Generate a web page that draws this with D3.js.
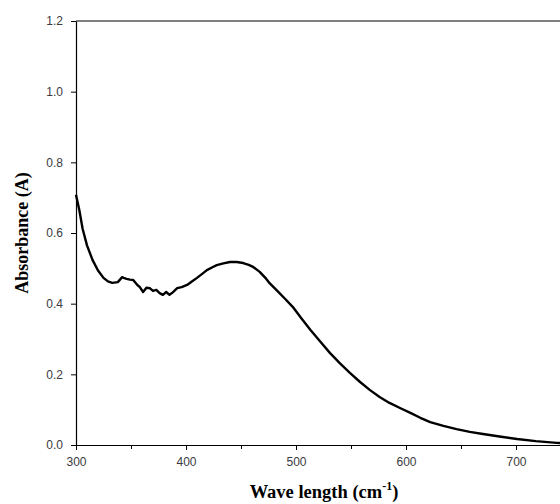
<!DOCTYPE html>
<html><head><meta charset="utf-8">
<script src="https://cdn.jsdelivr.net/npm/d3@7"></script>
<style>body{margin:0;background:#fff}svg{display:block}</style>
</head><body>
<script>
const wavelength = [300,303,306,310,315,320,325,329,333,338,342,344,346,349,352,356,358,361,364,367,370,373,376,379,382,385,388,392,396,401,405,410,415,419,424,428,434,440,446,452,457,461,467,473,476,483,490,497,505,513,522,531,540,549,558,567,576,585,595,604,613,622,634,646,658,670,685,701,718,737,750];
const absorbance = [0.708,0.665,0.612,0.565,0.524,0.494,0.473,0.463,0.459,0.461,0.475,0.472,0.47,0.468,0.467,0.452,0.447,0.433,0.445,0.444,0.436,0.439,0.43,0.425,0.433,0.425,0.432,0.444,0.447,0.453,0.462,0.473,0.485,0.495,0.503,0.509,0.514,0.518,0.518,0.515,0.51,0.504,0.49,0.47,0.458,0.436,0.414,0.391,0.358,0.326,0.293,0.260,0.231,0.204,0.179,0.156,0.136,0.119,0.104,0.091,0.077,0.065,0.054,0.045,0.037,0.031,0.024,0.017,0.011,0.006,0.004];
const xTicks = [300,400,500,600,700];
const xMinorTicks = [350,450,550,650,750];
const yTicks = [0.0,0.2,0.4,0.6,0.8,1.0,1.2];

const W = 560, H = 504;
const svg = d3.select("body").append("svg").attr("width", W).attr("height", H);
const x = d3.scaleLinear().domain([300, 750]).range([76, 571]);
const y = d3.scaleLinear().domain([0, 1.2]).range([445, 21]);

// frame top
svg.append("line").attr("x1", x(300)).attr("x2", W).attr("y1", y(1.2)).attr("y2", y(1.2))
  .attr("stroke", "#000").attr("stroke-width", 1.2);

const xAxis = svg.append("g").attr("transform", `translate(0,${y(0)})`)
  .call(d3.axisBottom(x).tickValues(xTicks).tickFormat(d3.format("d")).tickSize(5).tickSizeOuter(0));
svg.append("g").attr("transform", `translate(0,${y(0)})`)
  .call(d3.axisBottom(x).tickValues(xMinorTicks).tickFormat("").tickSize(4).tickSizeOuter(0))
  .call(g => g.select(".domain").remove());
const yAxis = svg.append("g").attr("transform", `translate(${x(300)},0)`)
  .call(d3.axisLeft(y).tickValues(yTicks).tickFormat(d3.format(".1f")).tickSize(5).tickSizeOuter(0));

svg.selectAll(".domain").attr("stroke", "#000").attr("stroke-width", 1.2);
svg.selectAll(".tick line").attr("stroke", "#000").attr("stroke-width", 1);
svg.selectAll(".tick text").attr("font-family", "Liberation Sans, Arial, sans-serif")
  .attr("font-size", 12).attr("fill", "#3a3a40");
xAxis.selectAll(".tick text").attr("y", 12).attr("dy", "0.71em");
yAxis.selectAll(".tick text").attr("x", -13);

const line = d3.line().x(d => x(d[0])).y(d => y(d[1]));
svg.append("path").datum(wavelength.map((w, i) => [w, absorbance[i]]))
  .attr("d", line).attr("fill", "none").attr("stroke", "#000").attr("stroke-width", 2.4)
  .attr("stroke-linejoin", "round");

svg.append("text").attr("x", 324).attr("y", 498).attr("text-anchor", "middle")
  .attr("font-family", "Liberation Serif, Times New Roman, serif").attr("font-weight", "bold")
  .attr("font-size", 18.5).attr("fill", "#000")
  .html('Wave length (cm<tspan dy="-8" font-size="12">-1</tspan><tspan dy="8">)</tspan>');

svg.append("text").attr("transform", `translate(28,233) rotate(-90)`).attr("text-anchor", "middle")
  .attr("font-family", "Liberation Serif, Times New Roman, serif").attr("font-weight", "bold")
  .attr("font-size", 18).attr("fill", "#000").text("Absorbance (A)");
</script>
</body></html>
